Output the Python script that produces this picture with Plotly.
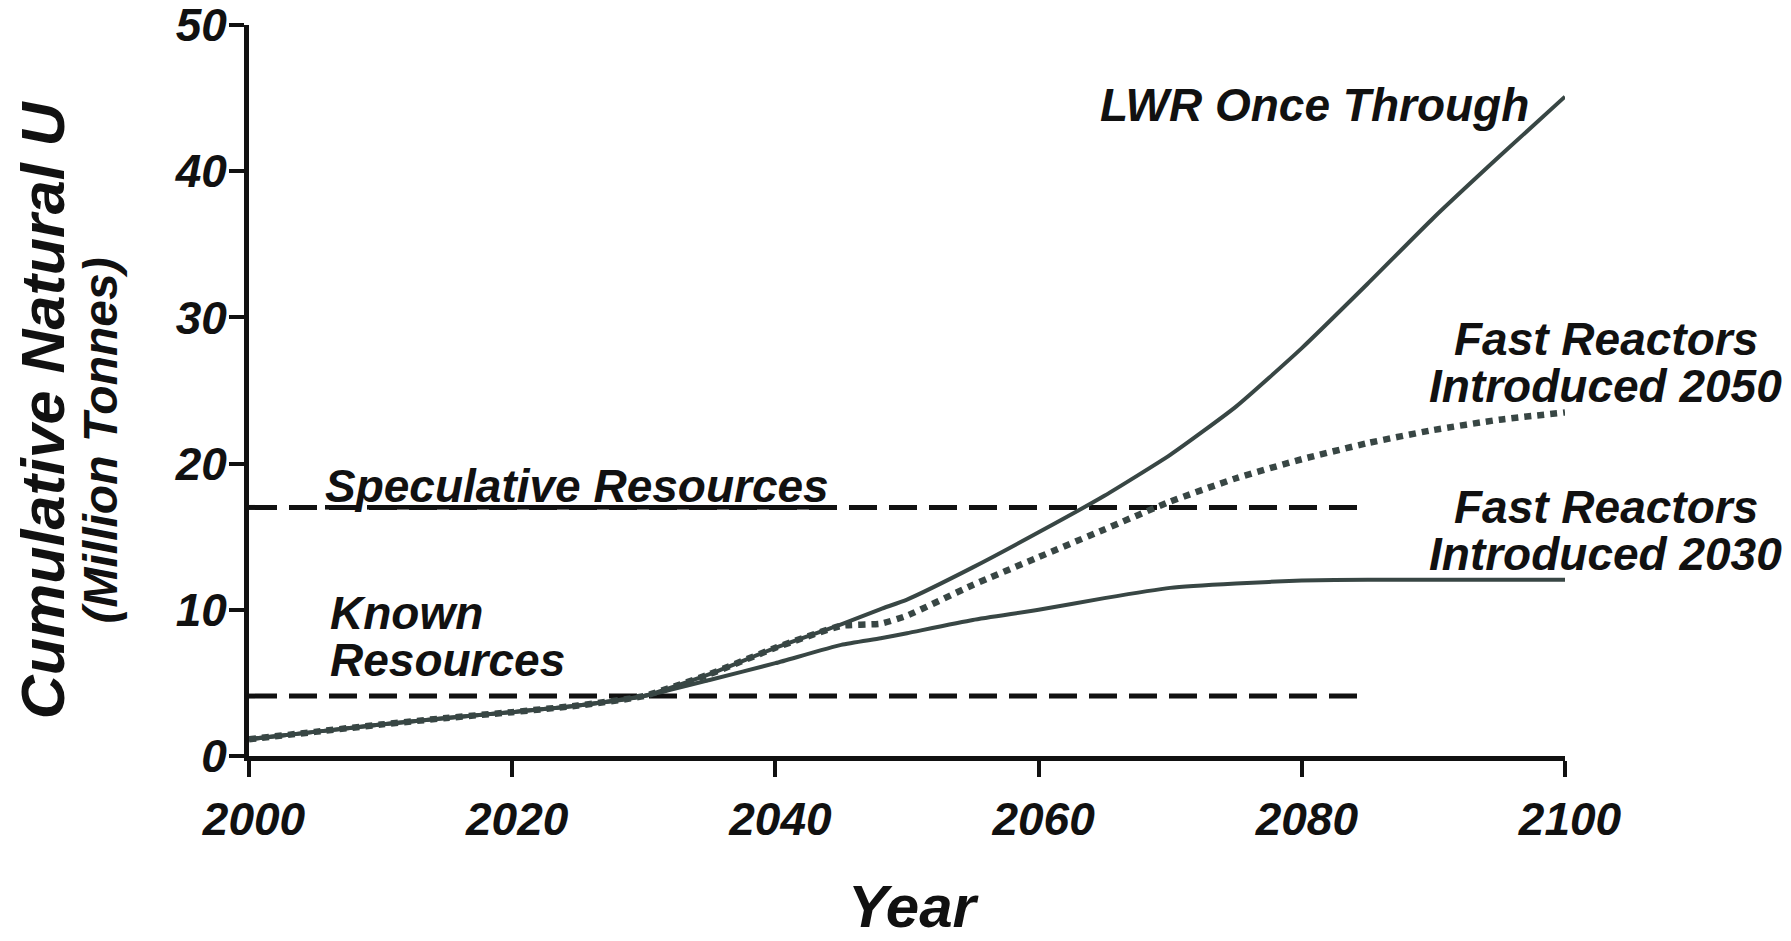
import plotly.graph_objects as go

# Cumulative natural uranium demand scenarios (million tonnes)
years = [2000, 2005, 2010, 2015, 2020, 2025, 2030, 2035, 2040, 2045, 2048,
         2050, 2055, 2060, 2065, 2070, 2075, 2080, 2085, 2090, 2095, 2100]

lwr_once_through = [1.15, 1.65, 2.15, 2.6, 3.0, 3.45, 4.1, 5.6, 7.4, 9.0, 10.05,
                    10.7, 12.9, 15.3, 17.8, 20.6, 23.9, 27.9, 32.3, 36.8, 41.0, 45.1]

fast_2050 = [1.15, 1.65, 2.15, 2.6, 3.0, 3.45, 4.1, 5.6, 7.4, 8.9, 9.05,
             9.6, 11.7, 13.6, 15.5, 17.4, 19.0, 20.3, 21.4, 22.3, 23.0, 23.5]

fast_2030 = [1.15, 1.65, 2.15, 2.6, 3.0, 3.45, 4.1, 5.2, 6.35, 7.6, 8.05,
             8.4, 9.3, 10.0, 10.8, 11.5, 11.8, 12.0, 12.05, 12.05, 12.05, 12.05]

# Resource levels drawn as horizontal reference lines
resource_years = [2000, 2085]
speculative_resources = [17.0, 17.0]
known_resources = [4.1, 4.1]

x_ticks = [2000, 2020, 2040, 2060, 2080, 2100]
y_ticks = [0, 10, 20, 30, 40, 50]

curve_color = "#384644"
font_family = "Liberation Sans, Arial, Helvetica, sans-serif"


def label_font(size):
    return dict(family=font_family, size=size, color="#111111",
                weight="bold", style="italic")


fig = go.Figure()

for level in (speculative_resources, known_resources):
    fig.add_trace(go.Scatter(
        x=resource_years, y=level, mode="lines",
        line=dict(color="#111111", width=5, dash="28px,12px"),
        hoverinfo="skip", showlegend=False,
    ))

fig.add_trace(go.Scatter(
    x=years, y=fast_2030, mode="lines",
    line=dict(color=curve_color, width=4, shape="spline", smoothing=0.5),
    name="Fast Reactors Introduced 2030", showlegend=False,
))
fig.add_trace(go.Scatter(
    x=years, y=lwr_once_through, mode="lines",
    line=dict(color=curve_color, width=4, shape="spline", smoothing=0.5),
    name="LWR Once Through", showlegend=False,
))
fig.add_trace(go.Scatter(
    x=years, y=fast_2050, mode="lines",
    line=dict(color=curve_color, width=6.5, dash="7px,6px",
              shape="spline", smoothing=0.5),
    name="Fast Reactors Introduced 2050", showlegend=False,
))

# Tightly stacked label lines use a fixed box height
line_box = dict(height=46, borderpad=0, showarrow=False, yanchor="middle")

fig.add_annotation(xref="x", yref="y", x=2097.4, y=44.5, xanchor="right",
                   yanchor="middle", showarrow=False,
                   text="LWR Once Through", font=label_font(46))
fig.add_annotation(xref="x", yref="y", x=2006.1, y=9.8, xanchor="left",
                   text="Known", font=label_font(46), **line_box)
fig.add_annotation(xref="x", yref="y", x=2006.1, y=6.6, xanchor="left",
                   text="Resources", font=label_font(46), **line_box)
fig.add_annotation(xref="x", yref="y", x=2005.6, y=18.5, xanchor="left",
                   yanchor="middle", showarrow=False,
                   text="Speculative Resources",
                   font=dict(label_font(46), lineposition="under"))

# Curve labels past the right end of the x axis
outer_labels = [
    dict(y=28.5, text="Fast Reactors"),
    dict(y=25.3, text="Introduced 2050"),
    dict(y=17.0, text="Fast Reactors"),
    dict(y=13.8, text="Introduced 2030"),
]
for a in outer_labels:
    fig.add_annotation(xref="paper", yref="y", x=1.031, xanchor="center",
                       font=label_font(46), **line_box, **a)

# Axis titles
fig.add_annotation(xref="paper", yref="paper", x=0.505, y=-0.2531,
                   xanchor="center", yanchor="bottom", showarrow=False,
                   borderpad=0, text="Year", font=label_font(60))
fig.add_annotation(xref="paper", yref="paper", x=-0.1565, y=0.473,
                   xanchor="center", yanchor="middle", showarrow=False,
                   textangle=-90, text="Cumulative Natural U",
                   font=label_font(61))
fig.add_annotation(xref="paper", yref="paper", x=-0.113, y=0.432,
                   xanchor="center", yanchor="middle", showarrow=False,
                   textangle=-90, text="(Million Tonnes)",
                   font=label_font(48))

axis_common = dict(
    showgrid=False, zeroline=False, showline=True,
    linecolor="#111111", linewidth=5,
    ticks="outside", tickcolor="#111111", tickwidth=4,
    tickfont=label_font(46), ticklabeloverflow="allow", automargin=False,
)

fig.update_xaxes(range=[2000, 2100], tickvals=x_ticks, ticklen=16,
                 ticklabelstandoff=3, ticklabelshift=5, **axis_common)
fig.update_yaxes(range=[0, 50], tickvals=y_ticks, ticklen=15,
                 ticklabelstandoff=-7, **axis_common)

fig.update_layout(
    width=1791, height=941,
    margin=dict(l=249, r=226, t=25, b=185),
    paper_bgcolor="white", plot_bgcolor="white",
    showlegend=False,
)

fig.write_html("out.html")
